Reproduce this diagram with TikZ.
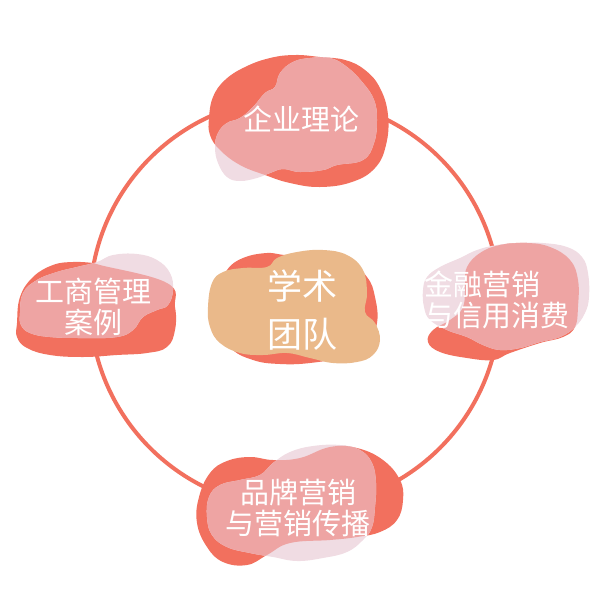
\documentclass[tikz,border=0pt]{standalone}
\usepackage{fontspec}
\setmainfont{Noto Sans CJK SC}
\definecolor{coral}{HTML}{F2705E}
\definecolor{midpink}{HTML}{EEA4A3}
\definecolor{palepink}{HTML}{F0DCE3}
\definecolor{tan}{HTML}{EAB98A}
\tikzset{
  blobtext/.style={text=white, inner sep=0pt, font=\fontsize{29}{30.5}\selectfont},
  bigtext/.style={text=white, inner sep=0pt, font=\fontsize{35}{48}\selectfont},
  smoothc/.style={smooth cycle, tension=0.7}
}
\newcommand{\layerblob}[2]{%
  \fill[coral] plot[smoothc] coordinates {#1};
  \fill[palepink] plot[smoothc] coordinates {#2};
  \begin{scope}
    \clip plot[smoothc] coordinates {#1};
    \fill[midpink] plot[smoothc] coordinates {#2};
  \end{scope}}
\begin{document}
\begin{tikzpicture}[x=1pt,y=-1pt]
\useasboundingbox (0,0) rectangle (595,595);
\coordinate (c0) at (295,303);
\draw[coral, line width=4pt] (c0) circle (205pt);
% top blob
\layerblob{(209,118) (213,97) (225,80) (245,67) (270,58) (295,55) (320,57) (345,60) (365,70) (380,88) (388,115) (386,145) (375,168) (352,182) (320,187) (290,183) (265,175) (240,165) (220,150) (210,135)}
{(275,87) (280,73) (293,62) (310,58) (330,58) (347,67) (363,83) (374,100) (377,120) (374,143) (363,160) (337,165) (323,170) (300,172) (283,169) (270,173) (257,178) (240,181) (227,177) (218,163) (215,147) (218,133) (227,123) (240,118) (253,107) (265,93)}
% right blob
\layerblob{(467,267) (480,253) (500,245) (527,243) (550,247) (570,260) (578,280) (578,307) (575,327) (563,337) (540,343) (510,353) (493,360) (467,358) (440,352) (428,342) (433,330) (450,320) (463,307) (465,283)}
{(423,290) (427,277) (440,267) (460,258) (477,250) (497,245) (520,243) (543,243) (567,247) (582,257) (588,273) (589,297) (585,313) (575,327) (560,337) (540,342) (520,348) (500,350) (483,345) (467,337) (447,330) (430,320) (424,307)}
% left blob
\layerblob{(17,323) (20,297) (33,277) (53,265) (73,262) (93,263) (100,265) (167,283) (175,307) (175,330) (167,347) (147,353) (117,355) (83,357) (50,355) (27,348) (17,337)}
{(20,313) (23,293) (37,280) (57,272) (77,267) (97,262) (113,255) (137,254) (157,260) (170,273) (173,290) (168,305) (157,310) (143,317) (133,330) (117,337) (83,338) (50,337) (30,333) (21,325)}
% bottom blob
\layerblob{(197,523) (199,497) (210,473) (227,461) (250,457) (273,460) (300,458) (330,447) (357,448) (383,460) (400,480) (403,500) (397,520) (380,532) (357,537) (330,540) (290,543) (267,555) (247,565) (223,562) (207,547)}
{(207,517) (209,497) (220,485) (240,480) (260,475) (273,463) (290,452) (313,446) (340,445) (360,450) (372,463) (376,483) (375,507) (372,527) (363,540) (347,552) (323,558) (297,561) (273,557) (250,553) (227,547) (212,535)}
% center blob
\fill[coral] plot[smoothc] coordinates {(220,290) (227,270) (243,258) (267,253) (287,255) (317,253) (347,260) (367,277) (375,297) (377,323) (367,343) (340,357) (310,363) (280,364) (253,360) (230,347) (218,320)};
\fill[tan] plot[smoothc] coordinates {(208,307) (212,283) (223,272) (243,268) (267,267) (277,258) (297,252) (323,250) (347,255) (363,270) (367,293) (365,312) (375,323) (380,340) (373,355) (357,362) (333,363) (310,358) (287,353) (263,355) (240,353) (220,343) (210,327)};
% texts
\node[blobtext] (top) at (301,119) {企业理论};
\node[blobtext, align=left, anchor=west] (right) at (424,300) {金融营销\\与信用消费};
\node[blobtext, align=center] (left) at (93,307) {工商管理\\案例};
\node[blobtext, align=center] (bottom) at (298,508) {品牌营销\\与营销传播};
\node[bigtext, align=center] (center) at (302,310) {学术\\团队};
\end{tikzpicture}
\end{document}
